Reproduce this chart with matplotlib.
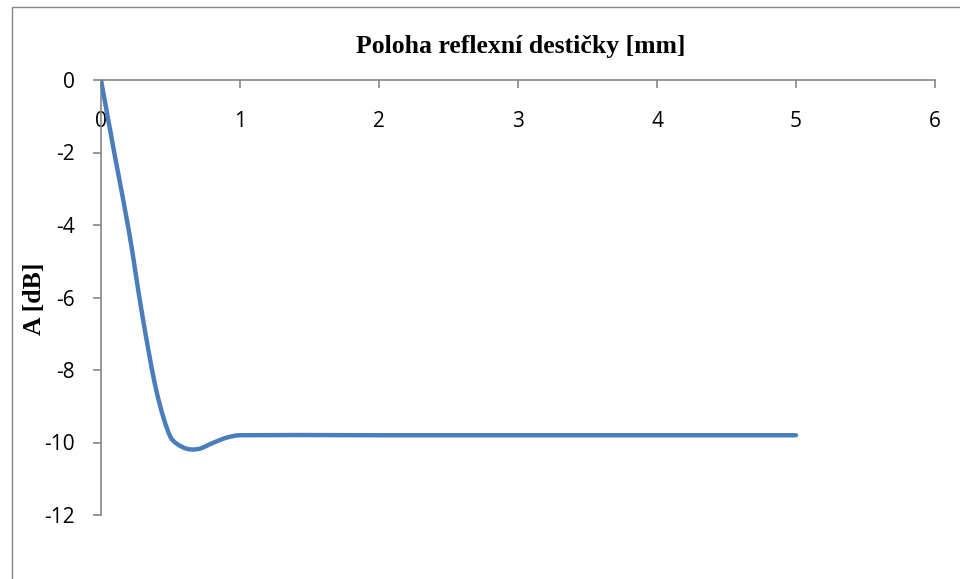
import numpy as np
import matplotlib
matplotlib.use("Agg")
import matplotlib.pyplot as plt
from matplotlib.path import Path
from matplotlib.patches import PathPatch, Rectangle

# Data
position_mm = [0, 0.1, 0.2, 0.3, 0.4, 0.5, 0.6, 0.7, 0.8, 0.9, 1, 2, 3, 4, 5]
attenuation_db = [0, -2.1, -4.15, -6.55, -8.6, -9.85, -10.15, -10.18, -10.02, -9.87, -9.8,
                  -9.8, -9.8, -9.8, -9.8]
x_ticks = [0, 1, 2, 3, 4, 5, 6]
y_ticks = [0, -2, -4, -6, -8, -10, -12]

title = "Poloha reflexní destičky [mm]"
ylabel = "A [dB]"

fig = plt.figure(figsize=(9.6, 5.79), dpi=100)
W, H = 960, 579
# outer chart frame
fig.patches.append(Rectangle((12 / W, -0.05), 1.0, 1 - 7 / H + 0.05, transform=fig.transFigure,
                             fill=False, edgecolor="#868686", linewidth=1.0))

ax = fig.add_axes([101 / W, 1 - 515 / H, (935 - 101) / W, (515 - 80) / H])
ax.set_xlim(0, 6)
ax.set_ylim(-12, 0)

# smooth curve (Excel-like) built as bezier path from data points
xs = np.array(position_mm, float)
ys = np.array(attenuation_db, float)
sx, sy = 139.0, 36.2  # screen scale for aspect-correct handles
P = np.column_stack([xs * sx, ys * sy])
n = len(P)
verts = [tuple(P[0])]
codes = [Path.MOVETO]
for i in range(n - 1):
    p0 = P[i - 1] if i > 0 else P[i]
    p1 = P[i]
    p2 = P[i + 1]
    p3 = P[i + 2] if i + 2 < n else P[i + 1]
    seg = np.linalg.norm(p2 - p1)
    t1 = (p2 - p0) / 6.0
    t2 = (p3 - p1) / 6.0
    l1 = np.linalg.norm(t1)
    if l1 > seg / 3 and l1 > 0:
        t1 = t1 * (seg / 3) / l1
    l2 = np.linalg.norm(t2)
    if l2 > seg / 3 and l2 > 0:
        t2 = t2 * (seg / 3) / l2
    c1 = p1 + t1
    c2 = p2 - t2
    verts += [tuple(c1), tuple(c2), tuple(p2)]
    codes += [Path.CURVE4] * 3
verts = [(vx / sx, vy / sy) for vx, vy in verts]
path = Path(verts, codes)
ax.add_patch(PathPatch(path, facecolor="none", edgecolor="#4A7EBB", linewidth=3.2,
                       capstyle="round", joinstyle="round", zorder=3))

spine_c = "#868686"
for s in ("top", "right"):
    ax.spines[s].set_visible(False)
ax.spines["bottom"].set_position(("data", 0))
ax.spines["bottom"].set_color(spine_c)
ax.spines["left"].set_color(spine_c)
ax.spines["bottom"].set_linewidth(1.2)
ax.spines["left"].set_linewidth(1.2)

ax.set_xticks(x_ticks)
ax.set_yticks(y_ticks)
ax.set_xticklabels([str(v) for v in x_ticks])
ax.set_yticklabels([str(v) for v in y_ticks])
ax.tick_params(axis="x", direction="out", length=6, width=1.2, color=spine_c, pad=16.5,
               labelsize=15, labelcolor="black")
ax.tick_params(axis="y", direction="out", length=6, width=1.2, color=spine_c, pad=13,
               labelsize=15, labelcolor="black")
for lab in ax.get_xticklabels() + ax.get_yticklabels():
    lab.set_family(["Open Sans", "DejaVu Sans"])

fig.text(521 / W, 1 - 46 / H, title, ha="center", va="center", fontsize=18.5, fontweight="bold",
         family=["Liberation Serif", "DejaVu Serif"])
fig.text(34 / W, 1 - 299 / H, ylabel, ha="center", va="center", rotation=90, fontsize=18.5,
         fontweight="bold", family=["Liberation Serif", "DejaVu Serif"])

fig.savefig("out.png", dpi=100)
